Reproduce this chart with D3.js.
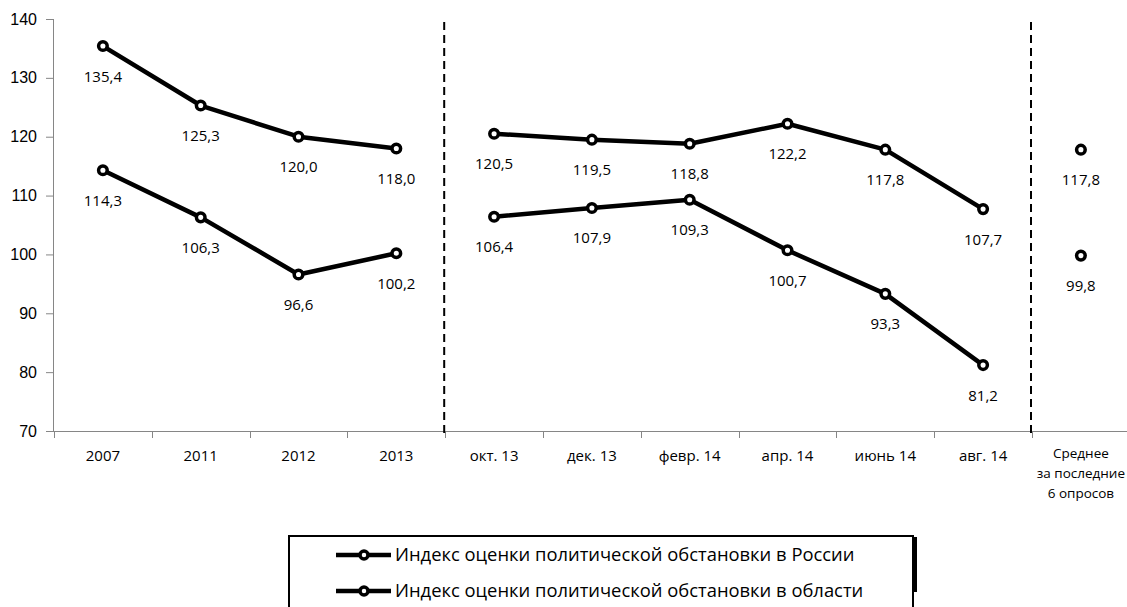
<!DOCTYPE html>
<html>
<head>
<meta charset="utf-8">
<script src="https://cdn.jsdelivr.net/npm/d3@7"></script>
<style>
  body { margin: 0; background: #fff; }
  svg { display: block; font-family: "Open Sans", sans-serif; }
</style>
</head>
<body>
<div id="chart"></div>
<script>
// categories along the x axis ("\n" = line break in the label)
var categories = ["2007", "2011", "2012", "2013", "окт. 13", "дек. 13", "февр. 14",
    "апр. 14", "июнь 14", "авг. 14", "Среднее\nза последние\n6 опросов"]
// which connected piece each category belongs to
var segments = [0, 0, 0, 0, 1, 1, 1, 1, 1, 1, 2]
var russiaValues = [135.4, 125.3, 120.0, 118.0, 120.5, 119.5, 118.8, 122.2, 117.8, 107.7, 117.8]
var regionValues = [114.3, 106.3, 96.6, 100.2, 106.4, 107.9, 109.3, 100.7, 93.3, 81.2, 99.8]
var yTicks = [70, 80, 90, 100, 110, 120, 130, 140]
var seriesNames = ["Индекс оценки политической обстановки в России",
    "Индекс оценки политической обстановки в области"]
// dashed separators sit before these categories
var separators = ["окт. 13", "Среднее\nза последние\n6 опросов"]

var width = 1127, height = 607
var svg = d3.select("#chart").append("svg")
    .attr("width", width)
    .attr("height", height)

var x = d3.scaleBand()
    .domain(categories)
    .range([54, 54 + 11 * 97.8])

var y = d3.scaleLinear()
    .domain([70, 140])
    .range([431, 19])

function fmt(v) {
    return v.toFixed(1).replace(".", ",")
}

// y axis
var yAxis = svg.append("g")
    .attr("transform", "translate(53,0)")
    .call(d3.axisLeft(y).tickValues(yTicks).tickSize(7).tickPadding(9).tickFormat(d3.format("d")))
yAxis.select(".domain").attr("stroke", "#868686").attr("d", "M0.5," + y(140) + "V" + y(70))
yAxis.selectAll(".tick line").attr("stroke", "#868686")
yAxis.selectAll("text").attr("font-size", 16).attr("fill", "#000")

// x axis line + ticks between categories
var xAxis = svg.append("g").attr("transform", "translate(0,431)")
xAxis.append("line")
    .attr("x1", 53).attr("x2", width)
    .attr("y1", 0.5).attr("y2", 0.5)
    .attr("stroke", "#868686")
xAxis.selectAll(".xt")
    .data(categories)
    .enter().append("line")
    .attr("class", "xt")
    .attr("x1", function (d) { return Math.round(x(d)) + 0.5 })
    .attr("x2", function (d) { return Math.round(x(d)) + 0.5 })
    .attr("y1", 0).attr("y2", 7)
    .attr("stroke", "#868686")

var xLabels = xAxis.selectAll(".xl")
    .data(categories)
    .enter().append("text")
    .attr("class", "xl")
    .attr("text-anchor", "middle")
    .attr("fill", "#000")
    .attr("x", function (d) { return x(d) + x.bandwidth() / 2 })
    .attr("y", 30)
    .attr("font-size", function (d) { return d.indexOf("\n") >= 0 ? 13.5 : 15 })
xLabels.each(function (d) {
    var parts = d.split("\n")
    var t = d3.select(this)
    if (parts.length > 1) t.attr("y", 27)
    parts.forEach(function (p, i) {
        t.append("tspan")
            .attr("x", x(d) + x.bandwidth() / 2)
            .attr("dy", i == 0 ? 0 : 20)
            .text(p)
    })
})

// dashed separators
svg.selectAll(".sep")
    .data(separators)
    .enter().append("line")
    .attr("class", "sep")
    .attr("x1", function (d) { return x(d) - 1 })
    .attr("x2", function (d) { return x(d) - 1 })
    .attr("y1", 22).attr("y2", 437)
    .attr("stroke", "#000")
    .attr("stroke-width", 2)
    .attr("stroke-dasharray", "8,5")

var line = d3.line()
    .x(function (d) { return x(d.cat) + x.bandwidth() / 2 })
    .y(function (d) { return y(d.value) })

function drawSeries(values) {
    var pts = values.map(function (v, i) {
        return {cat: categories[i], value: v, seg: segments[i]}
    })
    var groups = d3.groups(pts, function (d) { return d.seg })
    var g = svg.append("g")
    g.selectAll("path")
        .data(groups)
        .enter().append("path")
        .attr("d", function (d) { return line(d[1]) })
        .attr("fill", "none")
        .attr("stroke", "#000")
        .attr("stroke-width", 4.5)
        .attr("stroke-linejoin", "round")
    g.selectAll("circle")
        .data(pts)
        .enter().append("circle")
        .attr("cx", function (d) { return x(d.cat) + x.bandwidth() / 2 })
        .attr("cy", function (d) { return y(d.value) })
        .attr("r", 4.3)
        .attr("fill", "#fff")
        .attr("stroke", "#000")
        .attr("stroke-width", 3.5)
    g.selectAll("text")
        .data(pts)
        .enter().append("text")
        .attr("x", function (d) { return x(d.cat) + x.bandwidth() / 2 })
        .attr("y", function (d) { return y(d.value) + 35.5 })
        .attr("text-anchor", "middle")
        .attr("font-size", 15)
        .attr("fill", "#000")
        .text(function (d) { return fmt(d.value) })
}

drawSeries(russiaValues)
drawSeries(regionValues)

// legend
var legend = svg.append("g")
legend.append("path")
    .attr("d", "M289,612V536H913V612")
    .attr("fill", "none")
    .attr("stroke", "#000")
    .attr("stroke-width", 2)
legend.append("rect")
    .attr("x", 912).attr("y", 537)
    .attr("width", 5).attr("height", 55)
    .attr("fill", "#000")

var rows = legend.selectAll(".row")
    .data(seriesNames)
    .enter().append("g")
    .attr("class", "row")
    .attr("transform", function (d, i) { return "translate(0," + (555 + i * 36) + ")" })
rows.append("line")
    .attr("x1", 336).attr("x2", 391)
    .attr("stroke", "#000").attr("stroke-width", 4.5)
rows.append("circle")
    .attr("cx", 364).attr("r", 4)
    .attr("fill", "#fff").attr("stroke", "#000").attr("stroke-width", 3.5)
var legendText = rows.append("text")
    .attr("x", 395)
    .attr("dy", "0.35em")
    .attr("font-size", 17)
    .attr("fill", "#000")
    .text(function (d) { return d })
// fit the first legend label to the width seen in the picture
var w0 = legendText.node().getComputedTextLength()
legendText.attr("font-size", 17 * 460 / w0)
</script>
</body>
</html>
